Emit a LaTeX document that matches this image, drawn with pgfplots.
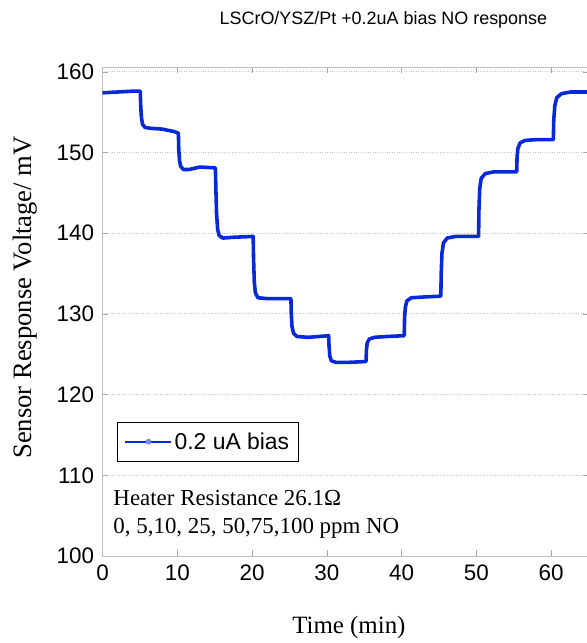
\documentclass[border=0pt]{standalone}
\usepackage{fontspec}
\usepackage{pgfplots}
\pgfplotsset{compat=1.18}
\setmainfont{Liberation Serif}
\newfontfamily\arial{Liberation Sans}
\definecolor{trace}{RGB}{8,40,218}

\begin{document}
\begin{tikzpicture}
\begin{axis}[
  at={(0,0)}, anchor=origin,
  scale only axis, width=486bp, height=489bp,
  xmin=0, xmax=65, ymin=100, ymax=160.6,
  xtick={0,10,...,60}, ytick={100,110,...,160},
  /pgf/number format/assume math mode=true,
  tick label style={font=\arial\fontsize{22.5}{27}\selectfont},
  yticklabel style={xshift=-5bp},
  xticklabel style={yshift=-5.5bp},
  tick align=inside, major tick length=6bp,
  axis line style={black!25},
  every tick/.style={black!35, line width=0.6pt},
  ymajorgrids, grid style={black!22, dotted, line width=0.9pt},
  title={LSCrO/YSZ/Pt +0.2uA bias NO response},
  title style={font=\arial\fontsize{18}{22}\selectfont,
    at={(axis description cs:0.578,1.075)}, anchor=base},
  xlabel={Time (min)},
  xlabel style={font=\fontsize{25}{30}\selectfont,
    at={(axis description cs:0.507,-0.1575)}, anchor=base},
  ylabel={Sensor Response Voltage/ mV},
  ylabel style={font=\fontsize{26.7}{31}\selectfont,
    at={(axis description cs:-0.1467,0.5286)}, anchor=base},
  legend style={at={(0.0305,0.2746)}, anchor=north west, draw=black,
    line width=0.7pt, font=\arial\fontsize{23}{27}\selectfont,
    inner xsep=7bp, inner ysep=6.6bp,
    nodes={inner xsep=2.3bp, inner ysep=4bp}},
  legend cell align=left,
  legend image code/.code={%
    \draw[trace, line width=1.6pt] (0bp,0bp) -- (46bp,0bp);
    \fill[trace!55] (23bp,0bp) circle (1.4bp);},
]
% NO step response: each concentration change gives a fast step with a rounded settling edge
\addplot[trace, line width=3.6pt, line join=round] coordinates {
  (0,157.4) (2,157.5) (4,157.6) (5.05,157.6)
  (5.1,156.0) (5.2,154.4) (5.35,153.5) (5.7,153.1) (6.5,153.0) (8,152.9) (9.6,152.6) (10.15,152.4)
  (10.2,150.4) (10.3,149.0) (10.45,148.3) (10.8,147.9) (11.6,147.9) (13,148.2) (15.1,148.1)
  (15.15,146.0) (15.25,142.5) (15.4,140.5) (15.6,139.7) (16.1,139.4) (17.5,139.5) (20.15,139.6)
  (20.2,137.0) (20.3,134.0) (20.45,132.6) (20.8,132.0) (22,131.9) (25.2,131.9)
  (25.25,130.0) (25.35,128.4) (25.55,127.6) (26,127.2) (27.5,127.1) (30.25,127.3)
  (30.3,126.0) (30.4,124.8) (30.6,124.2) (31.2,124.0) (33,124.0) (35.25,124.1)
  (35.3,125.5) (35.4,126.4) (35.7,126.9) (36.4,127.1) (38,127.2) (40.35,127.3)
  (40.4,129.5) (40.5,130.8) (40.7,131.6) (41.3,132.0) (43,132.1) (45.25,132.2)
  (45.3,135.0) (45.4,137.5) (45.6,138.8) (46.1,139.4) (47.2,139.6) (50.3,139.6)
  (50.35,143.0) (50.45,145.5) (50.65,146.8) (51.2,147.4) (52.3,147.6) (55.4,147.6)
  (55.45,149.5) (55.55,150.5) (55.85,151.2) (56.5,151.5) (58,151.6) (60.3,151.6)
  (60.35,154.0) (60.5,155.8) (60.75,156.8) (61.4,157.3) (62.6,157.5) (65,157.5)
};
\addlegendentry{0.2 uA bias}
\node[anchor=base west, inner sep=0pt, font=\fontsize{23}{27}\selectfont]
  at (axis description cs:0.0222,0.1043) {Heater Resistance 26.1Ω};
\node[anchor=base west, inner sep=0pt, font=\fontsize{23}{27}\selectfont]
  at (axis description cs:0.0222,0.045) {0, 5,10, 25, 50,75,100 ppm NO};
\end{axis}
\pgfresetboundingbox
\path[use as bounding box] (-102.5bp,-87bp) rectangle (484.5bp,556bp);
\end{tikzpicture}
\end{document}
